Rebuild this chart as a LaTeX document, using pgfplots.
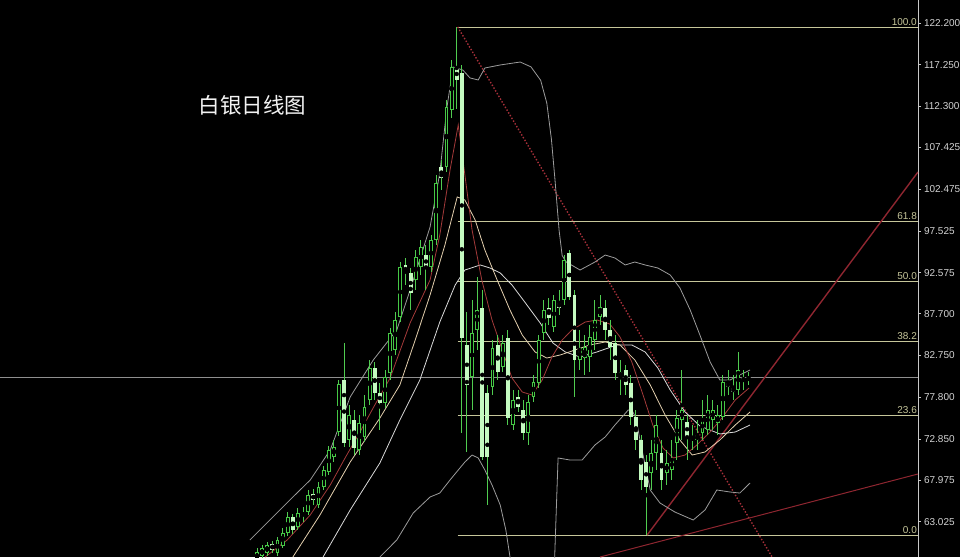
\documentclass[border=0pt]{standalone}
\usepackage{fontspec}
\setmainfont{Liberation Sans}
\newfontfamily\cjk{Noto Sans CJK SC}
\usepackage{pgfplots}
\usepackage{pgfplotstable}
\pgfplotsset{compat=1.18}

\definecolor{upc}{HTML}{45C845}
\definecolor{dnc}{HTML}{C4FAC0}
\definecolor{wickc}{HTML}{50CC50}
\definecolor{bandc}{HTML}{9C9C9C}
\definecolor{midc}{HTML}{D9D9D9}
\definecolor{ma10c}{HTML}{E3CFAE}
\definecolor{ma5c}{HTML}{A33A3A}
\definecolor{fibc}{HTML}{C6C69A}
\definecolor{hlinec}{HTML}{8F8F8F}
\definecolor{axisc}{HTML}{C8C8C8}
\definecolor{tickc}{HTML}{D4D4D4}
\definecolor{trendc}{HTML}{8E2630}
\definecolor{dotc}{HTML}{A8303A}

% daily candles, i = bar number
\pgfplotstableread{
i o h l c
0 58.5 59.9 57.9 59.4
1 59.0 60.3 58.5 59.9
2 59.3 60.6 59.0 60.3
4 59.3 61.2 59.0 60.9
5 60.1 62.3 59.9 61.7
6 61.7 64.2 61.3 63.6
8 62.4 64.7 62.0 64.1
10 64.2 66.8 63.8 66.2
12 65.0 67.7 64.6 67.2
13 67.2 69.6 66.8 69.2
14 68.9 72.0 68.6 71.5
15 70.7 72.7 70.1 71.9
16 73.7 79.8 73.2 79.4
18 72.7 76.9 71.9 75.7
20 71.5 75.7 70.9 74.7
21 73.1 78.1 72.5 76.6
22 77.5 82.2 76.9 81.3
25 77.1 81.0 76.5 80.2
26 80.7 86.0 79.8 85.4
27 83.4 87.9 82.8 87.0
28 87.3 93.8 86.7 93.3
31 91.7 95.3 90.5 94.4
32 93.3 96.5 92.3 95.6
34 93.3 97.0 92.7 96.5
35 96.5 104.2 95.9 103.2
37 105.1 113.1 104.5 112.2
38 111.9 117.8 110.9 117.0
42 80.2 89.3 76.3 85.4
43 85.8 92.1 83.4 88.2
46 79.0 84.6 78.1 83.6
48 81.4 85.2 80.8 84.2
50 74.5 78.7 73.9 77.5
53 73.6 78.1 72.1 77.2
54 77.8 80.4 77.2 79.6
55 79.5 85.2 78.9 84.6
56 85.4 89.3 84.6 88.2
58 86.1 89.9 85.5 89.3
60 89.3 94.7 88.7 94.1
63 82.2 85.8 81.0 83.6
64 82.5 85.2 80.4 83.8
65 82.6 86.4 80.8 84.9
66 84.6 89.3 83.4 87.0
67 87.3 89.9 86.4 88.5
71 80.2 82.2 78.1 80.8
77 68.8 72.7 66.8 71.2
78 71.2 75.7 69.2 74.5
80 68.8 71.5 67.4 70.0
81 69.2 72.7 68.0 70.4
82 72.4 76.3 70.4 75.3
83 75.1 81.0 72.7 76.3
85 72.7 74.5 71.5 73.1
86 72.7 75.1 71.5 73.3
87 73.6 77.5 72.7 75.1
88 73.9 78.1 73.3 76.3
89 75.1 77.5 73.9 76.3
90 74.7 76.9 73.3 75.7
91 75.5 80.4 75.1 79.6
94 78.7 83.2 78.1 81.0
96 79.8 80.8 79.3 80.165
}\candleup

\pgfplotstableread{
i o h l c
3 60.4 60.7 59.3 59.7
7 63.6 63.9 61.6 62.0
9 64.1 64.8 63.0 63.7
11 66.3 66.9 65.0 65.6
17 79.8 84.2 71.9 72.4
19 75.1 76.3 70.9 71.8
23 81.3 82.0 77.5 78.3
24 78.3 79.5 73.9 77.1
29 93.5 94.3 91.1 92.5
30 92.5 93.1 88.2 90.2
33 94.7 95.9 90.5 93.1
36 105.1 105.9 102.4 103.8
39 116.9 121.73 112.0 115.4
40 116.3 117.2 73.5 84.8
41 84.0 87.9 71.3 79.3
44 88.4 90.5 70.4 70.7
45 78.3 79.3 65.0 70.7
47 84.0 85.2 79.8 80.8
49 84.8 85.8 74.5 75.3
51 77.8 78.7 76.0 76.6
52 76.3 77.5 72.7 73.6
57 88.4 89.6 86.4 87.2
59 89.0 90.5 87.5 88.4
61 94.9 95.3 89.3 89.7
62 89.9 90.5 77.8 82.2
68 88.4 89.3 84.6 85.8
69 85.8 87.0 82.2 83.8
70 84.2 85.2 79.8 80.7
72 81.0 81.6 78.1 79.3
73 79.5 80.4 74.5 75.5
74 75.5 76.3 71.5 72.7
75 72.7 73.3 66.8 68.0
76 70.1 70.9 61.45 67.2
79 71.2 72.7 66.8 68.0
84 74.9 75.7 70.4 73.1
92 79.5 81.0 78.1 79.0
93 78.9 80.4 77.5 78.4
95 80.1 81.0 78.7 79.8
}\candledn

\pgfplotsset{
  bar part/.style n args={2}{only marks, mark=none, forget plot,
    error bars/.cd, y dir=both, y explicit, error mark=none,
    error bar style={line width=#2, color=#1, line cap=butt}},
  ind/.style={no marks, line width=0.8pt, color=#1},
}

\begin{document}
\begin{tikzpicture}
\fill[black] (0,0) rectangle (960pt,557pt);
\begin{axis}[
  at={(0,0)}, anchor=south west,
  scale only axis, width=918pt, height=557pt,
  xmin=-50.2, xmax=129.1, ymin=58.84, ymax=124.93,
  axis x line=none, axis y line*=right,
  axis line style={-, draw=axisc, line width=0.8pt},
  ytick={63.025,67.975,72.85,77.8,82.75,87.7,92.575,97.525,102.475,107.425,112.3,117.25,122.2},
  yticklabels={63.025,67.975,72.850,77.800,82.750,87.700,92.575,97.525,102.475,107.425,112.300,117.250,122.200},
  yticklabel style={font=\fontsize{10}{12}\selectfont, text=tickc, xshift=-0.5pt},
  tick style={draw=axisc, line width=0.6pt},
  tick align=outside, major tick length=3pt,
  clip=true,
]
% price line and Fibonacci levels
\addplot[ind=hlinec] coordinates {(-50.2,80.165) (129.1,80.165)};
\addplot[ind=fibc] coordinates {(39.2,121.73) (129.1,121.73)};
\addplot[ind=fibc] coordinates {(39.2,98.70) (129.1,98.70)};
\addplot[ind=fibc] coordinates {(39.2,91.59) (129.1,91.59)};
\addplot[ind=fibc] coordinates {(39.2,84.48) (129.1,84.48)};
\addplot[ind=fibc] coordinates {(39.2,75.68) (129.1,75.68)};
\addplot[ind=fibc] coordinates {(39.2,61.45) (129.1,61.45)};

% trend lines
\addplot[no marks, color=dotc, line width=1.4pt, dash pattern=on 1.4pt off 1.8pt]
  coordinates {(39.2,121.73) (100.6,58.84)};
\addplot[no marks, color=trendc, line width=1.4pt] coordinates {(76.2,61.45) (129.1,104.52)};
\addplot[no marks, color=trendc, line width=1pt] coordinates {(67.0,58.84) (129.1,68.69)};

% Bollinger bands
\addplot[ind=bandc] coordinates {
 (-1.4,60.86) (2.5,63.23) (6.4,65.60) (10.4,67.98) (14.3,71.54) (18.2,77.83)
 (22.7,82.21) (27.3,85.78) (29.9,90.52) (33.8,98.00) (35.7,104.40) (37.1,112.23)
 (38.3,116.98) (40.2,116.62) (41.6,115.68) (43.2,115.44) (44.5,116.86) (47.5,117.22)
 (51.4,117.57) (53.5,117.0) (55.4,115.4) (56.6,112.7) (57.5,108.4) (58.2,103.57)
 (59.0,97.6) (59.6,94.6) (60.4,93.84) (63.1,92.89) (66.0,93.84) (68.0,94.67)
 (69.9,94.32) (71.9,93.49) (73.8,93.84) (75.8,93.49) (78.3,93.13) (80.7,92.30)
 (82.6,90.76) (84.6,88.15) (86.5,85.18) (88.5,81.98) (90.4,79.84) (92.4,79.84)
 (94.3,80.44) (96.3,81.03)};
\addplot[ind=bandc] coordinates {
 (24.0,58.84) (27.3,60.86) (30.5,64.06) (33.8,65.96) (35.7,66.43) (37.7,67.98)
 (39.3,69.16) (40.6,70.11) (42.0,70.94) (43.2,70.59) (44.5,69.16) (45.9,67.38)
 (47.5,65.01) (48.6,62.05) (49.8,57.3) (53.3,47.0) (57.5,47.0) (58.2,60.0)
 (58.8,70.59) (61.1,70.35) (63.5,70.35) (66.0,72.13) (68.0,73.08) (69.9,74.50)
 (71.3,75.45) (72.5,76.28) (73.2,76.28) (74.0,75.33) (74.8,72.72) (75.8,69.76)
 (76.8,66.79) (78.7,65.25) (81.6,64.18) (85.2,63.23) (87.5,64.42) (89.8,66.79)
 (92.4,66.55) (94.3,66.43) (96.3,67.62)};
\addplot[ind=midc] coordinates {
 (12.9,58.84) (18.2,64.42) (24.0,70.00) (27.9,75.10) (31.8,79.84) (35.7,86.72)
 (38.7,91.11) (40.6,92.89) (43.6,93.49) (45.5,93.13) (47.5,92.54) (49.8,91.11)
 (52.0,89.33) (55.3,86.61) (57.8,84.23) (60.2,83.17) (63.1,82.57) (66.4,83.17)
 (70.3,84.00) (73.2,84.00) (75.8,83.17) (78.3,81.26) (80.7,78.66) (83.6,76.05)
 (86.5,74.39) (90.4,73.44) (93.4,73.67) (96.3,74.50)};

% moving averages
\addplot[ind=ma10c] coordinates {
 (7.0,58.84) (12.3,63.83) (18.2,70.11) (24.0,75.33) (27.9,79.25) (30.9,84.59)
 (33.8,89.93) (36.7,95.86) (39.1,101.56) (40.6,101.20) (42.6,98.83) (44.5,95.27)
 (46.9,91.71) (49.4,88.15) (51.8,85.18) (54.3,83.17) (56.6,82.45) (59.2,82.81)
 (62.1,83.40) (65.0,84.00) (68.0,84.35) (70.9,84.00) (73.8,82.21) (76.8,79.25)
 (79.7,75.69) (82.6,72.72) (85.0,70.94) (87.5,71.30) (90.4,72.72) (93.4,74.50)
 (96.3,76.05)};
\addplot[ind=ma5c] coordinates {
 (1.6,58.84) (5.9,60.86) (10.4,63.83) (14.3,67.38) (17.2,70.59) (20.1,73.67)
 (23.0,76.87) (26.0,80.08) (29.9,86.61) (33.8,91.71) (35.7,97.05) (37.7,104.76)
 (39.3,110.10) (40.6,104.17) (42.0,97.64) (43.9,91.71) (45.9,86.96) (47.9,83.40)
 (49.8,80.08) (51.8,78.42) (53.7,78.06) (55.7,79.84) (57.6,82.57) (59.6,84.59)
 (61.5,85.78) (64.1,86.72) (66.4,86.96) (68.9,86.49) (70.9,84.95) (73.2,81.98)
 (75.4,78.06) (77.3,74.50) (79.3,71.77) (81.3,70.59) (83.6,70.94) (85.9,72.13)
 (88.5,73.67) (90.8,75.33) (93.4,77.47) (96.1,78.89)};

% candles: wicks, bodies, hollow centres of up bars
\addplot[bar part={wickc}{1pt}] table[x=i, y expr={(\thisrow{h}+\thisrow{l})/2},
  y error expr={(\thisrow{h}-\thisrow{l})/2}] {\candleup};
\addplot[bar part={wickc}{1pt}] table[x=i, y expr={(\thisrow{h}+\thisrow{l})/2},
  y error expr={(\thisrow{h}-\thisrow{l})/2}] {\candledn};
\addplot[bar part={upc}{3.9pt}] table[x=i, y expr={(\thisrow{o}+\thisrow{c})/2},
  y error expr={max(abs(\thisrow{c}-\thisrow{o})/2,0.12)}] {\candleup};
\addplot[bar part={black}{1.9pt}] table[x=i, y expr={(\thisrow{o}+\thisrow{c})/2},
  y error expr={max(abs(\thisrow{c}-\thisrow{o})/2-0.12,0)}] {\candleup};
\addplot[bar part={dnc}{3.9pt}] table[x=i, y expr={(\thisrow{o}+\thisrow{c})/2},
  y error expr={max(abs(\thisrow{c}-\thisrow{o})/2,0.12)}] {\candledn};

% labels
\node[text=white!90!gray, font=\cjk\fontsize{21.5}{25}\selectfont] at (rel axis cs:0.275,0.8115) {白银日线图};
\foreach \lv/\tx in {121.73/100.0, 98.70/61.8, 91.59/50.0, 84.48/38.2, 75.68/23.6, 61.45/0.0} {
  \edef\temp{\noexpand\node[anchor=south east, text=fibc, font=\noexpand\fontsize{10}{12}\noexpand\selectfont, inner sep=1pt]
    at (axis cs:129.1,\lv) {\tx};}
  \temp
}
\node[fill=white, text=black, anchor=west, inner sep=1.2pt, xshift=2.5pt,
  font=\fontsize{10}{12}\selectfont] at (axis cs:129.1,80.165) {80.165};
\end{axis}
\pgfresetboundingbox
\useasboundingbox (0,0) rectangle (960pt,557pt);
\end{tikzpicture}
\end{document}
